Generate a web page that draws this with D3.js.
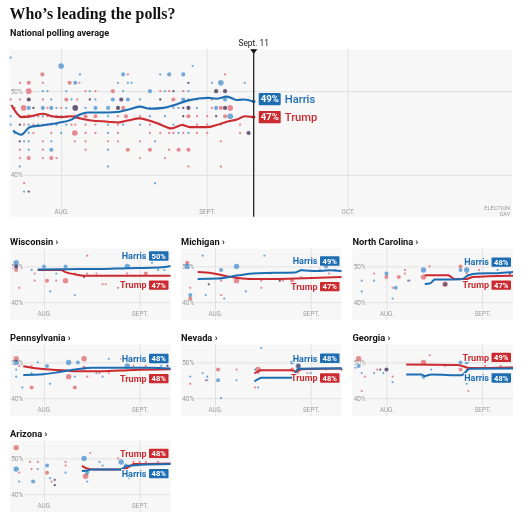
<!DOCTYPE html>
<html><head><meta charset="utf-8">
<script src="https://cdn.jsdelivr.net/npm/d3@7"></script>
<style>body{margin:0;background:#fff}svg{display:block}</style>
</head><body>
<svg id="c" width="530" height="517"></svg>
<script>
// ---------- DATA ----------
// day = days after July 21, 2024
const mainHarrisLine = [[0.75,45.3],[2.5,44.8],[4.3,45.7],[6.8,45.9],[10.3,46.2],[13.2,46.6],[15,47.2],[16.7,47.45],[21,47.45],[23,47.5],[24.5,47.7],[26,47.9],[27.8,48.15],[29.9,47.9],[32.8,48.0],[34.9,48.3],[38.1,48.9],[42.3,49.2],[44,49.1],[46.3,49.35],[48.4,48.95],[50,49.0],[52,48.75]];
const mainTrumpLine = [[0.4,48.35],[1.8,47.2],[2.5,46.9],[4.6,47.0],[7.1,47.3],[9,47.0],[11,46.9],[13,47.0],[15,46.75],[17.4,46.5],[21,46.35],[23.1,46.25],[25.2,46.5],[27.8,46.75],[29.9,46.45],[32,46.05],[34.5,45.55],[36.7,45.95],[38.4,45.7],[42,45.7],[44.1,45.95],[46.3,46.35],[48.4,46.6],[50.1,47.0],[52,46.9]];
const mainFinal = [49, 47]; // Harris, Trump

const harrisDots = [
[0.25,54,1],[11,53,3],[15,52,1],[24.2,52,2],[14,51,2],[23.1,51,1],[25.2,51,1],
[7.1,50,1],[8.1,50,1],[12.1,50,1],[17.1,50,1],[24.2,50,1],
[4.1,49,2],[8.9,49,1],[13.2,49,1],[17.1,49,1],[18.3,49,1],[22,49,2],[23.8,49,2],[25.2,49,2],
[4.1,48,2],[5.1,48,1],[7.1,48,2],[8.9,48,2],[10,48,1],[12.1,48,1],[14,48,3],[16.2,48,1],[18.3,48,2],[21,48,2],[23.1,48,2],
[0.25,47,1],[5.1,47,1],[7.1,47,1],[8.9,47,1],[11,47,1],[21,47,1],
[0.25,46,1],[2.2,46,1],[4.1,46,1],[6.1,46,1],[8.1,46,1],[10,46,1],[12.1,46,1],[21,46,1],[24.2,46,1],
[1.1,45,1],[4.1,45,1],[11,45,1],[21,45,1],
[2.2,44,1],[3.1,44,1],[4.1,44,1],[8.9,44,1],
[4.1,43,1],[8.9,43,2],[21,43,1],
[2.2,41,1],[21,41,1],
[3.1,38,1],[4.1,38,1],
[39,53,1],[32.1,52,1],[34,52,2],[37,52,2],
[26,51,1],[38.1,51,1],[43.1,51,1],[45,51,3],[50.1,51,1],
[29.9,50,2],[33.1,50,1],[34.9,50,1],[38.1,50,1],[44,50,2],[45.9,50,2],
[27.8,49,1],[32.1,49,1],[37,49,2],[39.9,49,1],[45.9,49,2],
[29.9,48,1],[34.9,48,1],[36,48,1],[37,48,1],[38.1,48,2],[39.9,48,1],[44,48,2],[45.9,48,2],
[29.9,47,1],[33.1,47,1],[37,47,1],[44,47,1],[47,47,3],
[27.8,46,1],[34.9,46,1],
[36,45,1],[38.1,45,1],[50.9,45,2],
[31,44,1],[31,39,1]
];
const trumpDots = [
[7,52,2],[25.2,52,1],
[2.2,51,1],[4.1,51,2],[7.1,51,1],[12.8,51,2],[14.9,51,1],
[4.1,50,3],[16.2,50,1],[18.3,50,1],[22,50,2],
[0.25,49,1],[2.2,49,1],[4.1,49,2],[7.1,49,1],[12.1,49,2],[14.4,49,1],[17.1,49,1],[23.8,49,2],
[1.1,48,1],[3,48,3],[5.1,48,1],[8.1,48,1],[11,48,1],[14,48,3],[23.1,48,2],[24.2,48,2],
[2.2,47,1],[3.1,47,1],[4.1,47,2],[6.1,47,1],[8.1,47,1],[10,47,1],[12.1,47,1],[14,47,2],[16.2,47,2],[18.3,47,2],[23.1,47,1],[24.8,47,2],
[2.2,46,1],[3.1,46,1],[5.1,46,1],[7.1,46,1],[8.9,46,1],[13.2,46,1],[14,46,1],[16.2,46,1],[18.3,46,1],[23.1,46,1],
[3.1,45,1],[5.1,45,1],[8.9,45,1],[13.9,45,3],[16.2,45,1],[18.3,45,1],[23.1,45,1],
[2.2,44,1],[7.1,44,1],[13.9,44,1],[16.2,44,1],[21,44,1],[23.1,44,1],
[2.2,43,1],[7.1,43,1],[16.2,43,1],[25.2,43,2],
[2.2,42,1],[4.1,42,2],[7.1,42,1],[8.9,42,2],[10,42,1],
[3.1,39,1],[4.1,38,1],
[45.9,52,1],[38.1,51,1],
[32.1,50,1],[34,50,1],[34.9,50,1],[37,50,1],[44,50,2],[45.9,50,2],
[32.1,49,1],[34.9,49,2],[38.1,49,1],[43.1,49,1],[49.1,49,1],
[37,48,1],[38.1,48,2],[43.1,48,1],[45,48,2],[45.9,48,2],[47,48,3],
[27.8,47,1],[37,47,1],[38.1,47,2],[39.9,47,1],[42.1,47,1],[44,47,1],[45.9,47,2],
[29.9,46,1],[32.1,46,1],[37,46,1],[39.9,46,1],[42.1,46,1],[45,46,1],[49.1,46,1],
[29.9,45,1],[32.1,45,1],[34,45,1],[34.9,45,1],[37,45,1],[39.9,45,1],[42.1,45,1],[49.1,45,1],[50.9,45,2],
[27.8,44,1],[45,44,1],
[29.9,43,2],[34,43,1],[36,43,2],[38.1,43,2],
[27.8,42,1],[33.1,42,1],
[38.1,41,1],[45,41,1]
];

const mainTickLabels = ["AUG.", "SEPT.", "OCT."];
const mainTickDays = [11, 42, 72];
const panelTickLabels = ["AUG.", "SEPT."];
const panelTickDays = [11, 42];
const pctTicks = [40, 50];

const stateNames = ["Wisconsin", "Michigan", "North Carolina", "Pennsylvania", "Nevada", "Georgia", "Arizona"];
const harrisFinal = [50, 49, 48, 48, 48, 48, 48];
const trumpFinal  = [47, 47, 47, 48, 48, 49, 48];

const wisconsinHarris = [[9,49.1],[18,49.2],[30,49.3],[38,49.5],[46,49.6],[50,49.8],[52,50.1]];
const wisconsinTrump = [[9,49],[16.5,49],[18,48.4],[21,47.8],[24,47.4],[52,47.4]];
const wisconsinPolls = [[2,51,"H",3],[2,50,"T",2],[2,50,"H",2],[2,49,"T",2],[3,44,"T",1],[7,49,"H",1],[8,48,"T",1],[8,46,"T",1],[11,50,"H",2],[12,46,"T",2],[13,43,"H",1],[15,46,"T",1],[15,48,"H",1],[18,50,"H",2],[18,46,"T",3],[21,42,"H",1],[21,48,"T",1],[24,47,"T",1],[24,47,"H",1],[25,53,"T",1],[25,48,"T",1],[28,48,"T",1],[30,45,"T",1],[31,45,"T",1],[35,44,"T",1],[38,50,"H",3],[38,48,"T",1],[44,48,"T",2],[46,51,"H",1],[48,49,"H",1],[50,49,"H",1]];

const michiganHarris = [[5.4,46.5],[12,46.6],[18.6,47.5],[25,48.1],[37,48.3],[39,48.9],[44,48.7],[48,48.9],[52,48.7]];
const michiganTrump = [[5.4,48.4],[10,48.1],[16.4,47],[22,46.5],[30,46.5],[40,46.7],[52,47]];
const michiganPolls = [[2,51,"T",2],[2,50,"H",3],[3,42,"H",2],[3,41,"T",2],[3,44,"T",1],[7,53,"H",1],[8,42,"H",1],[9,45,"H",1],[9,45,"T",1],[13,49,"H",2],[13,46,"T",1],[13,42,"T",1],[14,41,"H",1],[18,50,"H",3],[18,46,"T",3],[21,43,"H",1],[26,46,"T",1],[26,44,"T",1],[27,53,"H",1],[29,48,"H",1],[32,46,"T",1],[32,46,"H",1],[33,46,"T",1],[36,46,"T",2],[39,49,"H",1],[39,47,"T",1],[45,49,"H",1],[47,50,"H",2],[48,48,"T",1],[50,49,"H",1]];

const northCarolinaHarris = [[23.4,45.1],[25,45.2],[26.7,46.3],[35.3,46.4],[37.5,47.5],[40.7,48],[47,48.1],[52,48.4]];
const northCarolinaTrump = [[23.4,47.5],[31,47.5],[33,46.5],[37,46.5],[39,47],[52,47.4]];
const northCarolinaPolls = [[3,46,"H",1],[3,43,"H",1],[7,48,"T",1],[7,46,"H",1],[11,48,"H",2],[11,47,"T",2],[13,44,"T",1],[13,41,"H",1],[14,44,"H",2],[15,47,"T",2],[17,49,"T",1],[17,48,"T",1],[18,46,"H",1],[18.5,46,"T",1],[23,49,"H",3],[23,47,"T",3],[25,50,"T",1],[30,45,"T",3],[30,45,"H",2],[35,50,"T",2],[35,49,"H",2],[37,49,"H",3],[37,48,"T",1],[41,49,"T",1],[47,49,"H",1],[51,48,"H",1],[51,48,"T",1]];

const pennsylvaniaHarris = [[4.3,46.5],[10.8,46.7],[16,47.3],[21.7,48.1],[27,48.5],[45.5,48.5],[52,48.3]];
const pennsylvaniaTrump = [[4.3,48.9],[7.6,48.4],[18.4,47.7],[21.7,47.5],[29.3,47.5],[40.1,47.9],[52,48.1]];
const pennsylvaniaPolls = [[2,51,"T",3],[2,50,"H",3],[2,48,"H",1],[2,46,"H",1],[3,49,"T",1],[4,43,"H",1],[7,49,"T",1],[7,47,"H",1],[7,43,"T",2],[9,50,"H",1],[12,49,"H",2],[13,44,"H",1],[19,50,"H",3],[19,46,"T",3],[21,43,"T",2],[21,46,"H",1],[22,50,"H",2],[24,51,"T",3],[24,48.5,"T",2],[25,46,"T",1],[28,47,"H",1],[29,47,"T",1],[30,46,"H",1],[32,51,"H",1],[32,47,"T",1],[36,51,"T",1],[38,49,"H",3],[40,49,"T",1],[44,49,"T",1],[47,50,"H",1],[49,49,"H",1],[51,49,"H",1],[51,49,"T",1]];

const nevadaHarris = [[23.8,44.7],[25,45.3],[26,45.7],[35.8,45.7],[37,47],[38,48.2],[52,48.35]];
const nevadaTrump = [[23.8,46.9],[25,47.5],[26,47.8],[35.8,47.8],[37.4,47.4],[39,48.1],[52,48.3]];
const nevadaPolls = [[3,46,"H",1],[3,44,"T",1],[7,47,"H",1],[8,45,"T",1],[8.5,46,"H",1],[8.5,45,"H",1],[12,48,"T",2],[12,45,"H",2],[13,40,"H",1],[18,48,"T",1],[18,45,"H",1],[24,48,"H",1],[25,48,"T",3],[25,47,"T",1],[24,43,"T",1],[25,43,"H",1],[26,54,"H",1],[36,50,"H",2],[36,48,"T",2],[38,49,"H",3],[38,49,"T",2],[38,47,"T",1],[41,47,"T",1],[42,47,"H",1],[47,48,"T",1],[52,48,"H",1],[52,48,"T",1]];

const georgiaHarris = [[17.4,46.6],[22.3,46.6],[23.4,46.2],[25.6,46.6],[35.3,46.4],[38,48.2],[52,48.3]];
const georgiaTrump = [[17.4,49.4],[34.2,49.3],[38,48.4],[40,48.4],[52,48.6]];
const georgiaPolls = [[2,51,"T",3],[2,49,"H",2],[1,48.5,"H",1],[3,47,"H",1],[3,42,"T",1],[4,46,"T",1],[7,47,"H",1],[8,48,"T",1],[9,48,"H",1],[9,48,"T",1],[10,47,"H",1],[11,48,"H",2],[11,48,"T",2],[13,46,"T",1],[13,44.5,"H",1],[23,50,"T",3],[23,46,"H",2],[25,52,"T",1],[25.5,48,"H",1],[30,49,"T",1],[35,50,"H",2],[35,48,"T",2],[37,50,"H",2],[37,48,"T",1],[37,44,"H",1],[37.5,42,"T",1],[43,49,"T",1],[48,49,"T",1],[51.5,48.5,"H",1],[51.5,48.5,"T",1]];

const arizonaHarris = [[23.3,46.5],[25.5,46.7],[26.5,46.9],[35.8,46.9],[37.9,47.9],[42.3,48.2],[52,48.4]];
const arizonaTrump = [[23.3,47.9],[24.9,47.2],[27.1,46.9],[36.8,46.9],[38.5,47.6],[40.1,48.4],[52,48.6]];
const arizonaPolls = [[2,53,"T",3],[2,47,"H",3],[3,46,"T",1],[3,43.5,"H",1],[6.5,49,"T",1],[7,47,"T",1],[7.5,43.5,"H",2],[9,49,"T",1],[9,47,"H",1],[12,48,"H",2],[12,46,"T",2],[13,44.5,"H",1],[13.5,43.5,"T",1],[14.5,44,"H",1],[14.5,44,"T",1],[14.5,42.5,"H",1],[14.5,42.5,"T",1],[18,49,"T",1],[18,48,"T",1],[18,46,"H",1],[24,50,"H",3],[24.5,45,"T",3],[25,46,"H",2],[25,43.5,"H",1],[26,51.5,"T",1],[29,49,"H",1],[30,48,"H",1],[35,50,"T",1],[36,49,"H",3],[37.5,48,"H",2],[38.5,44.5,"H",1],[40,49,"T",1],[42,49,"T",1],[44,49,"T",1],[48,49,"T",1]];

// ---------- STYLE ----------
const DAY0 = new Date(2024, 6, 21);
const toDate = d => new Date(DAY0.getTime() + d * 86400000);
const C = {harris:"#1d6db3", trump:"#cb2a30", hDot:"#72a9d8", tDot:"#e58a8e", bg:"#f7f7f7", grid:"#e1e1e1", axis:"#9a9a9a", ink:"#121212"};
const SANS = "Roboto, 'Noto Sans', Arial, sans-serif";
const rMain = {1:1.15, 2:2.05, 3:2.8};

const svg = d3.select("#c");

// Title
const title = svg.append("text").attr("x", 9.5).attr("y", 18.5)
  .attr("font-family", "'Liberation Serif', 'DejaVu Serif', serif").attr("font-weight", 700)
  .attr("font-size", 17).attr("fill", C.ink).text("Who’s leading the polls?");
{ const w = title.node().getComputedTextLength(); title.attr("font-size", 17 * 166 / w); }
const sub = svg.append("text").attr("x", 10).attr("y", 36).attr("font-family", SANS).attr("font-weight", 700)
  .attr("font-size", 8.2).attr("fill", C.ink).text("National polling average");
{ const w = sub.node().getComputedTextLength(); sub.attr("font-size", 8.2 * 99 / w); }

// ---------- MAIN CHART ----------
const M = {left: 9.5, right: 512, top: 49.3, bottom: 216.7};
const x = d3.scaleTime().domain([toDate(0), new Date(2024, 10, 5)]).range([M.left, M.right]);
const y = d3.scaleLinear().domain([35, 55]).range([M.bottom, M.top]);
const gm = svg.append("g");
gm.append("rect").attr("x", M.left).attr("y", M.top).attr("width", M.right - M.left).attr("height", M.bottom - M.top).attr("fill", C.bg);

// gridlines/axes
const xAxisM = gm.append("g").attr("transform", `translate(0,${M.bottom})`)
  .call(d3.axisBottom(x).tickValues(mainTickDays.map(toDate)).tickFormat((d, i) => mainTickLabels[i])
    .tickSize(-(M.bottom - M.top)).tickPadding(-7));
xAxisM.select(".domain").remove();
xAxisM.selectAll("line").attr("stroke", C.grid);
xAxisM.selectAll("text").attr("font-family", SANS).attr("font-size", 6.3).attr("fill", C.axis)
  .attr("stroke", C.bg).attr("stroke-width", 2).attr("paint-order", "stroke");
const yAxisM = gm.append("g").attr("transform", `translate(${M.left},0)`)
  .call(d3.axisLeft(y).tickValues(pctTicks).tickFormat(d => d + "%").tickSize(-(M.right - M.left)));
yAxisM.select(".domain").remove();
yAxisM.selectAll("line").attr("stroke", C.grid);
yAxisM.selectAll("text").attr("x", 1.2).attr("text-anchor", "start").attr("font-family", SANS).attr("font-size", 6.5)
  .attr("fill", C.axis).attr("stroke", C.bg).attr("stroke-width", 2.5).attr("paint-order", "stroke");

// election day label (two separate lines)
gm.append("text").attr("x", M.right - 2).attr("y", 209.6).attr("text-anchor", "end").attr("font-family", SANS)
  .attr("font-size", 5.6).attr("fill", C.axis).text("ELECTION");
gm.append("text").attr("x", M.right - 2).attr("y", 216.2).attr("text-anchor", "end").attr("font-family", SANS)
  .attr("font-size", 5.6).attr("fill", C.axis).text("DAY");

// dots
const dotsG = gm.append("g").style("isolation", "isolate");
dotsG.selectAll("circle.h").data(harrisDots).join("circle").attr("class", "h")
  .attr("cx", d => x(toDate(d[0]))).attr("cy", d => y(d[1])).attr("r", d => rMain[d[2]])
  .attr("fill", C.hDot).style("mix-blend-mode", "multiply");
dotsG.selectAll("circle.t").data(trumpDots).join("circle").attr("class", "t")
  .attr("cx", d => x(toDate(d[0]))).attr("cy", d => y(d[1])).attr("r", d => rMain[d[2]])
  .attr("fill", C.tDot).style("mix-blend-mode", "multiply");

// lines
const lineM = d3.line().x(d => x(toDate(d[0]))).y(d => y(d[1])).curve(d3.curveMonotoneX);
gm.append("path").datum(mainTrumpLine).attr("d", lineM).attr("fill", "none").attr("stroke", C.trump).attr("stroke-width", 2.1);
gm.append("path").datum(mainHarrisLine).attr("d", lineM).attr("fill", "none").attr("stroke", C.harris).attr("stroke-width", 2.1);

// today marker
const todayX = x(toDate(52));
gm.append("line").attr("x1", todayX).attr("x2", todayX).attr("y1", M.top).attr("y2", M.bottom).attr("stroke", "#111").attr("stroke-width", 1.2);
gm.append("path").attr("d", `M${todayX - 3.6},${M.top} L${todayX + 3.6},${M.top} L${todayX},${M.top + 4.5} Z`).attr("fill", "#111");
svg.append("text").attr("x", todayX).attr("y", 46.3).attr("text-anchor", "middle").attr("font-family", SANS)
  .attr("font-size", 8.4).attr("fill", "#222").text("Sept. 11");

const hEnd = mainHarrisLine[mainHarrisLine.length - 1], tEnd = mainTrumpLine[mainTrumpLine.length - 1];
gm.append("circle").attr("cx", todayX).attr("cy", y(hEnd[1])).attr("r", 1.7).attr("fill", "#1a4f80");
gm.append("circle").attr("cx", todayX).attr("cy", y(tEnd[1])).attr("r", 1.7).attr("fill", "#8e1f24");

// main labels
const tCy = y(tEnd[1]);
const hCy = Math.min(y(hEnd[1]), tCy - 18);
[[hCy, mainFinal[0], "Harris", C.harris], [tCy, mainFinal[1], "Trump", C.trump]].forEach(([cy, v, name, col]) => {
  gm.append("rect").attr("x", todayX + 5).attr("y", cy - 6.2).attr("width", 22).attr("height", 12.4).attr("rx", 1).attr("fill", col);
  gm.append("text").attr("x", todayX + 16).attr("y", cy + 3.4).attr("text-anchor", "middle").attr("font-family", SANS)
    .attr("font-weight", 700).attr("font-size", 9.6).attr("fill", "#fff").text(v + "%");
  gm.append("text").attr("x", todayX + 31).attr("y", cy + 4).attr("font-family", SANS)
    .attr("font-weight", 500).attr("font-size", 11.2).attr("fill", col).text(name);
});

// ---------- SMALL MULTIPLES ----------
const statesTable = stateNames.map((name, i) => ({
  name, hFinal: harrisFinal[i], tFinal: trumpFinal[i],
  harris: [wisconsinHarris, michiganHarris, northCarolinaHarris, pennsylvaniaHarris, nevadaHarris, georgiaHarris, arizonaHarris][i],
  trump: [wisconsinTrump, michiganTrump, northCarolinaTrump, pennsylvaniaTrump, nevadaTrump, georgiaTrump, arizonaTrump][i],
  polls: [wisconsinPolls, michiganPolls, northCarolinaPolls, pennsylvaniaPolls, nevadaPolls, georgiaPolls, arizonaPolls][i]
}));
const colLefts = [10, 181, 352.5], rowTops = [248.5, 344.5, 440.5];
const PW = 160.5, PH = 71.5;
const rPanel = {1:1.1, 2:2.0, 3:2.7};

statesTable.forEach((s, i) => {
  const left = colLefts[i % 3], top = rowTops[Math.floor(i / 3)];
  const px = d3.scaleTime().domain([toDate(0), toDate(52)]).range([left, left + PW]);
  const py = d3.scaleLinear().domain([35, 55]).range([top + PH, top]);
  const g = svg.append("g");
  g.append("text").attr("x", left).attr("y", top - 4).attr("font-family", SANS).attr("font-weight", 700)
    .attr("font-size", 9.3).attr("fill", C.ink).text(s.name + " ›");
  g.append("rect").attr("x", left).attr("y", top).attr("width", PW).attr("height", PH).attr("fill", C.bg);

  const yA = g.append("g").attr("transform", `translate(${left},0)`)
    .call(d3.axisLeft(py).tickValues(pctTicks).tickFormat(d => d + "%").tickSize(-PW));
  yA.select(".domain").remove();
  yA.selectAll("line").attr("stroke", C.grid);
  const xA = g.append("g").attr("transform", `translate(0,${top + PH})`)
    .call(d3.axisBottom(px).tickValues(panelTickDays.map(toDate)).tickFormat((d, k) => panelTickLabels[k])
      .tickSize(-PH).tickPadding(-8.3));
  xA.select(".domain").remove();
  xA.selectAll("line").attr("stroke", C.grid);
  xA.selectAll("text").attr("font-family", SANS).attr("font-size", 6.3).attr("fill", C.axis)
    .attr("stroke", C.bg).attr("stroke-width", 2).attr("paint-order", "stroke");
  yA.selectAll("text").attr("x", 1.2).attr("text-anchor", "start").attr("font-family", SANS).attr("font-size", 6.5)
    .attr("fill", C.axis).attr("stroke", C.bg).attr("stroke-width", 2.5).attr("paint-order", "stroke");

  const dg = g.append("g").style("isolation", "isolate");
  dg.selectAll("circle").data(s.polls).join("circle")
    .attr("cx", d => px(toDate(d[0]))).attr("cy", d => py(d[1])).attr("r", d => rPanel[d[3]])
    .attr("fill", d => d[2] === "H" ? C.hDot : C.tDot).style("mix-blend-mode", "multiply");

  const ln = d3.line().x(d => px(toDate(d[0]))).y(d => py(d[1])).curve(d3.curveMonotoneX);
  g.append("path").datum(s.trump).attr("d", ln).attr("fill", "none").attr("stroke", C.trump).attr("stroke-width", 2);
  g.append("path").datum(s.harris).attr("d", ln).attr("fill", "none").attr("stroke", C.harris).attr("stroke-width", 2);

  const he = s.harris[s.harris.length - 1][1], te = s.trump[s.trump.length - 1][1];
  const harrisUp = he >= te;
  const upCy = py(harrisUp ? he : te) - 10, downCy = py(harrisUp ? te : he) + 9.5;
  const items = [
    {cy: harrisUp ? upCy : downCy, v: s.hFinal, name: "Harris", col: C.harris},
    {cy: harrisUp ? downCy : upCy, v: s.tFinal, name: "Trump", col: C.trump}
  ];
  const boxW = 19.5, boxR = left + PW - 2;
  items.forEach(it => {
    g.append("rect").attr("x", boxR - boxW).attr("y", it.cy - 4.7).attr("width", boxW).attr("height", 9.4).attr("rx", 0.8).attr("fill", it.col);
    g.append("text").attr("x", boxR - boxW / 2).attr("y", it.cy + 2.7).attr("text-anchor", "middle").attr("font-family", SANS)
      .attr("font-weight", 700).attr("font-size", 7.6).attr("fill", "#fff").text(it.v + "%");
    g.append("text").attr("x", boxR - boxW - 2.5).attr("y", it.cy + 3.3).attr("text-anchor", "end").attr("font-family", SANS)
      .attr("font-weight", 700).attr("font-size", 9).attr("fill", it.col)
      .attr("stroke", C.bg).attr("stroke-width", 2).attr("paint-order", "stroke").text(it.name);
  });
});
</script>
</body></html>
